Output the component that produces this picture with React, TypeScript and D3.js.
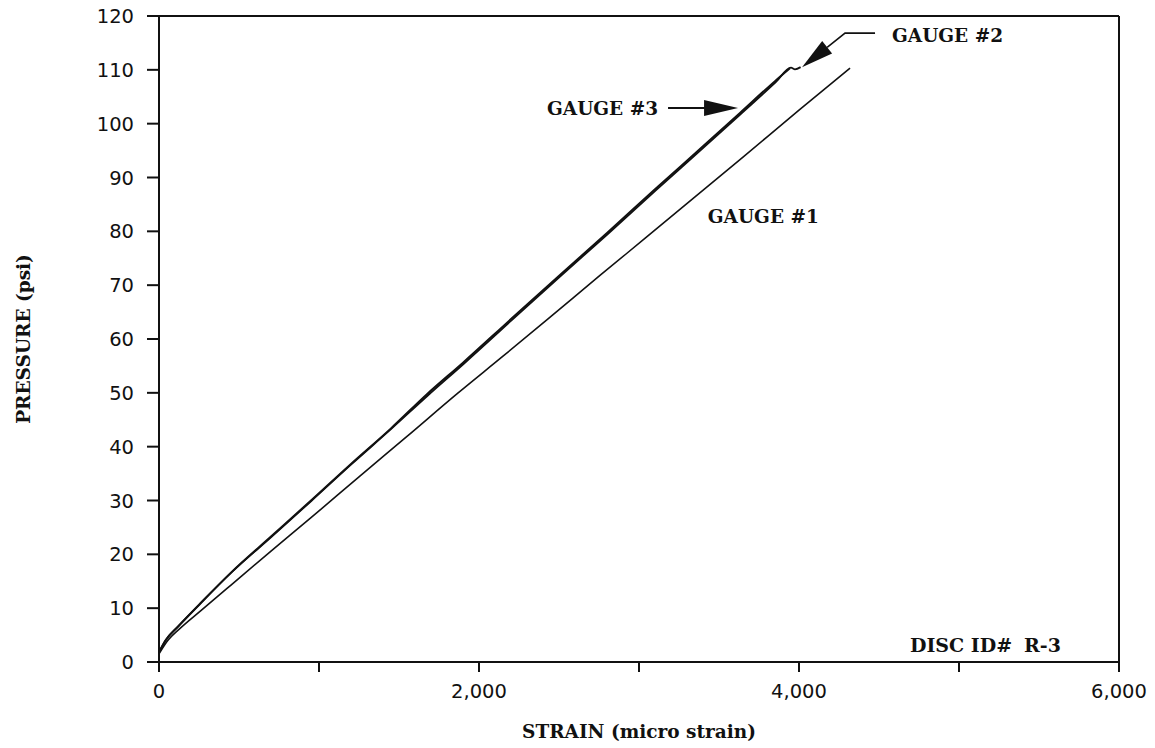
import React from "react";
import * as d3 from "d3";

// ---- data (strain in micro strain, pressure in psi) ----
const gauge1Strain = [0, 50, 130, 260, 450, 700, 950, 1250, 1550, 1862, 2150, 2450, 2756, 3050, 3350, 3650, 4000, 4319];
const gauge1Pressure = [1.5, 3.8, 6.2, 9.5, 14.3, 20.6, 26.8, 34.4, 41.9, 49.8, 56.8, 64.2, 71.8, 79.0, 86.4, 93.8, 102.5, 110.3];

const gauge2Strain = [0, 45, 125, 255, 455, 705, 955, 1205, 1455, 1680, 1905, 2205, 2510, 2805, 3105, 3405, 3636, 3855, 3950, 3975, 4010];
const gauge2Pressure = [1.9, 4.2, 6.8, 10.8, 16.7, 23.3, 30.0, 36.8, 43.4, 49.5, 55.4, 63.5, 71.7, 79.5, 87.6, 95.6, 101.8, 107.7, 110.4, 110.1, 110.5];

const gauge3Strain = [0, 40, 120, 250, 450, 700, 950, 1200, 1450, 1673, 1900, 2200, 2506, 2800, 3100, 3400, 3631, 3850, 3944];
const gauge3Pressure = [1.8, 4.0, 6.6, 10.6, 16.6, 23.3, 30.0, 36.8, 43.4, 49.7, 55.6, 63.7, 71.9, 79.7, 87.8, 95.8, 102.0, 107.9, 110.3];

const xTicks = [0, 1000, 2000, 3000, 4000, 5000, 6000];
const xTickLabels = ["0", "", "2,000", "", "4,000", "", "6,000"];
const yTicks = [0, 10, 20, 30, 40, 50, 60, 70, 80, 90, 100, 110, 120];

const xTitle = "STRAIN (micro strain)";
const yTitle = "PRESSURE (psi)";
const discLabel = "DISC ID#";
const discValue = "R-3";

// annotation anchors in data units
const gauge3Tip = [3619, 102.9];
const gauge2Tip = [4019, 110.5];
const gauge1LabelAt = [3430, 81.5];

const W = 1155;
const H = 748;
const serif = "'DejaVu Serif', serif";
const sans = "'DejaVu Sans', sans-serif";

export default function App() {
  const x = d3.scaleLinear().domain([0, 6000]).range([159, 1119]);
  const y = d3.scaleLinear().domain([0, 120]).range([662, 16]);
  const line = d3
    .line<[number, number]>()
    .x((d) => x(d[0]))
    .y((d) => y(d[1]))
    .curve(d3.curveMonotoneX);

  const s1 = gauge1Strain.map((v, i) => [v, gauge1Pressure[i]] as [number, number]);
  const s2 = gauge2Strain.map((v, i) => [v, gauge2Pressure[i]] as [number, number]);
  const s3 = gauge3Strain.map((v, i) => [v, gauge3Pressure[i]] as [number, number]);

  const x0 = x.range()[0];
  const y0 = y.range()[0];
  const x1 = x.range()[1];
  const yTop = y.range()[1];

  const t3x = x(gauge3Tip[0]);
  const t3y = y(gauge3Tip[1]);
  const t2x = x(gauge2Tip[0]);
  const t2y = y(gauge2Tip[1]);
  const elbowX = t2x + 43;
  const elbowY = t2y - 34;
  const dx = t2x - elbowX;
  const dy = t2y - elbowY;
  const len = Math.hypot(dx, dy);
  const ux = dx / len;
  const uy = dy / len;
  const bx = t2x - ux * 32;
  const by = t2y - uy * 32;
  const px = -uy * 8;
  const py = ux * 8;

  return (
    <svg width={W} height={H} style={{ position: "absolute", left: 0, top: 0, background: "#fff" }}>
      <rect x={0} y={0} width={W} height={H} fill="#fff" />
      {/* frame */}
      <line x1={x0 - 12} y1={yTop} x2={x1} y2={yTop} stroke="#111" strokeWidth={2} />
      <line x1={x1} y1={yTop} x2={x1} y2={y0} stroke="#111" strokeWidth={2} />
      <line x1={x0 - 12} y1={y0} x2={x1} y2={y0} stroke="#111" strokeWidth={2} />
      <line x1={x0} y1={yTop} x2={x0} y2={y0 + 10} stroke="#111" strokeWidth={2} />

      {/* y ticks */}
      {yTicks.map((t) => (
        <g key={"y" + t}>
          <line x1={x0 - 12} x2={x0} y1={y(t)} y2={y(t)} stroke="#111" strokeWidth={2} />
          <text x={134} y={y(t)} dy="0.36em" textAnchor="end" fontFamily={sans} fontSize={19.5} fill="#111">
            {t}
          </text>
        </g>
      ))}
      {/* x ticks */}
      {xTicks.map((t, i) => (
        <g key={"x" + t}>
          <line x1={x(t)} x2={x(t)} y1={y0} y2={y0 + 10} stroke="#111" strokeWidth={2} />
          <text x={x(t)} y={698} textAnchor="middle" fontFamily={sans} fontSize={19.5} fill="#111">
            {xTickLabels[i]}
          </text>
        </g>
      ))}

      {/* series */}
      <path d={line(s1) || ""} fill="none" stroke="#111" strokeWidth={1.6} strokeLinejoin="round" />
      <path d={line(s2) || ""} fill="none" stroke="#111" strokeWidth={1.8} strokeLinejoin="round" />
      <path d={line(s3) || ""} fill="none" stroke="#111" strokeWidth={2} strokeLinejoin="round" />

      {/* gauge 3 annotation */}
      <text x={t3x - 80} y={t3y + 7} textAnchor="end" fontFamily={serif} fontWeight="bold" fontSize={18.5} fill="#111">
        GAUGE #3
      </text>
      <line x1={t3x - 70} y1={t3y} x2={t3x - 32} y2={t3y} stroke="#111" strokeWidth={2} />
      <polygon points={`${t3x},${t3y} ${t3x - 34},${t3y - 8} ${t3x - 34},${t3y + 8}`} fill="#111" />

      {/* gauge 2 annotation */}
      <polyline points={`${elbowX + 30},${elbowY} ${elbowX},${elbowY} ${bx},${by}`} fill="none" stroke="#111" strokeWidth={1.6} />
      <polygon points={`${t2x},${t2y} ${bx + px},${by + py} ${bx - px},${by - py}`} fill="#111" />
      <text x={elbowX + 47} y={elbowY + 9} fontFamily={serif} fontWeight="bold" fontSize={18.5} fill="#111">
        GAUGE #2
      </text>

      {/* gauge 1 label */}
      <text x={x(gauge1LabelAt[0])} y={y(gauge1LabelAt[1])} fontFamily={serif} fontWeight="bold" fontSize={18.5} fill="#111">
        GAUGE #1
      </text>

      {/* disc id */}
      <text x={910} y={652} fontFamily={serif} fontWeight="bold" fontSize={19} fill="#111">
        {discLabel}
      </text>
      <text x={1024} y={652} fontFamily={serif} fontWeight="bold" fontSize={19} fill="#111">
        {discValue}
      </text>

      {/* axis titles */}
      <text x={(x0 + x1) / 2} y={738} textAnchor="middle" fontFamily={serif} fontWeight="bold" fontSize={18.5} fill="#111">
        {xTitle}
      </text>
      <text
        transform={`translate(30, ${(y0 + yTop) / 2}) rotate(-90)`}
        textAnchor="middle"
        fontFamily={serif}
        fontWeight="bold"
        fontSize={18.5}
        fill="#111"
      >
        {yTitle}
      </text>
    </svg>
  );
}
